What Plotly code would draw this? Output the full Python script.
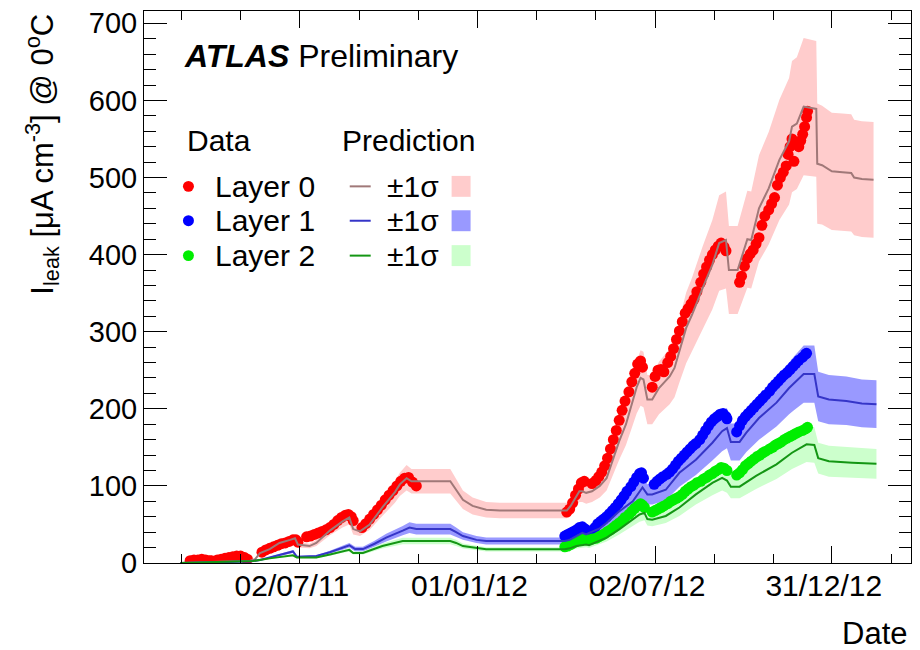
import pandas as pd
import plotly.graph_objects as go

FONT = "Liberation Sans, Arial, Helvetica, sans-serif"
EPOCH = pd.Timestamp("2011-01-01")

# ---------------------------------------------------------------------------
# Measured leakage current, I_leak [uA cm^-3] normalised to 0 C
# x values are days since 1 January 2011
# ---------------------------------------------------------------------------
l0_day = [69, 73, 77, 81, 85, 89, 91,
          97, 101, 105, 109, 113, 117, 121, 125, 128,
          143, 147, 151, 155, 159, 163, 167, 171, 175, 178, 180,
          189, 193, 197, 201, 205, 209, 213, 217, 221, 225, 229, 232, 235, 237,
          246, 250, 254, 258, 262, 266, 270, 274, 278, 282, 286, 290, 294, 298, 302,
          457, 460, 463, 466, 469, 472, 475,
          483, 487, 490, 493, 496, 499, 502, 505, 508, 511, 514, 517, 521, 524, 527, 530, 533, 535,
          545, 548, 551, 554, 557, 561, 564, 567, 570, 573, 576, 579, 582, 585, 588, 591, 595, 598,
          601, 604, 607, 610, 613, 616, 619, 621,
          635, 637, 640, 643, 646, 649, 652, 655, 658, 661, 665, 668, 671, 674, 677, 680, 683, 685,
          687, 689, 691, 693, 696, 698, 700, 702, 704, 705]
l0_ileak = [3, 4, 4, 5, 4, 3, 3,
            4, 5, 6, 7, 8, 9, 9, 7, 5,
            14, 17, 19, 21, 23, 25, 26, 28, 30, 30, 27,
            34, 35, 37, 39, 41, 43, 46, 50, 55, 59, 62, 63, 60, 55,
            46, 51, 57, 63, 69, 75, 82, 88, 94, 100, 106, 110, 111, 105, 100,
            66, 70, 78, 88, 96, 104, 106,
            103, 107, 112, 118, 126, 136, 148, 160, 172, 185, 198, 210, 222, 235, 246, 258, 262, 254,
            228, 242, 250, 251, 248, 260, 268, 278, 290, 301, 313, 324, 330, 336, 342, 352, 364, 375,
            384, 393, 400, 406, 411, 415, 410, 405,
            364, 372, 385, 395, 401, 406, 414, 422, 438, 450, 458, 466, 474, 490, 500, 507, 515, 530,
            540, 550, 521, 545, 540, 548, 556, 566, 578, 586]

l1_day = [455, 458, 461, 464, 467, 470, 473, 476,
          482, 486, 489, 492, 495, 498, 501, 504, 507, 510, 513, 516, 519, 523, 526, 529, 532, 534, 536,
          547, 550, 553, 556, 560, 563, 566, 569, 572, 575, 578, 581, 584, 587, 590, 594, 597, 600,
          603, 606, 609, 612, 615, 618, 621, 622,
          632, 635, 638, 641, 644, 647, 650, 653, 656, 659, 662, 666, 669, 672, 675, 678, 681, 684,
          687, 690, 693, 696, 700, 703, 704]
l1_ileak = [35, 37, 39, 41, 43, 46, 47, 44,
            41, 46, 51, 54, 57, 60, 64, 68, 72, 77, 82, 87, 93, 99, 105, 111, 116, 117, 110,
            102, 106, 109, 112, 115, 118, 122, 127, 132, 136, 140, 144, 148, 152, 155, 160, 166, 172,
            178, 183, 187, 190, 193, 194, 190, 187,
            170, 178, 185, 190, 194, 198, 202, 206, 210, 214, 218, 223, 228, 232, 236, 240, 244, 247,
            251, 255, 259, 263, 267, 271, 272]

l2_day = [455, 458, 461, 464, 467, 470, 473, 476, 478,
          483, 487, 490, 493, 496, 499, 502, 505, 508, 511, 514, 517, 521, 524, 527, 530, 533, 535, 537,
          545, 548, 551, 554, 557, 561, 564, 567, 570, 573, 576, 579, 582, 585, 588, 591, 595, 598,
          601, 604, 607, 610, 613, 616, 619, 622,
          632, 635, 638, 641, 644, 647, 650, 653, 656, 659, 662, 666, 669, 672, 675, 678, 681, 684,
          687, 690, 693, 696, 700, 703, 705]
l2_ileak = [21, 22, 24, 26, 28, 30, 32, 31, 30,
            31, 32, 34, 36, 38, 41, 43, 46, 49, 52, 55, 59, 63, 67, 71, 74, 77, 75, 72,
            66, 68, 70, 72, 74, 77, 80, 82, 84, 86, 89, 93, 96, 99, 101, 104, 106, 109,
            111, 114, 116, 119, 121, 124, 123, 120,
            114, 117, 121, 126, 129, 132, 135, 138, 140, 143, 145, 148, 150, 153, 155, 157, 160, 162,
            164, 166, 168, 170, 172, 174, 176]

# ---------------------------------------------------------------------------
# Prediction with its +-1 sigma band
# ---------------------------------------------------------------------------
p0_day = [59, 79, 110, 131, 136, 141, 151, 161, 172, 177, 180, 192, 199, 213, 226, 233, 237, 244,
          254, 267, 280, 285, 292, 297, 337, 343, 350, 360, 374, 388, 457, 461, 466, 470, 473, 477,
          483, 491, 498, 504, 511, 518, 524, 529, 533, 536, 540, 545, 552, 559, 563, 568, 573, 580,
          586, 593, 597, 607, 614, 621, 624, 633, 643, 647, 655, 665, 676, 686, 689, 694, 701, 714,
          715, 720, 730, 741, 750, 753, 761, 773]
p0_mid = [0, 1, 2, 3, 5, 13, 18, 26, 30, 32, 24, 22, 26, 42, 54, 59, 44, 41,
          50, 72, 92, 102, 110, 106, 106, 95, 82, 74, 69, 68, 68, 74, 85, 93, 93, 91,
          93, 100, 110, 132, 158, 180, 205, 228, 240, 238, 212, 212, 227, 236, 242, 253, 275, 305,
          322, 345, 357, 387, 415, 419, 380, 380, 420, 419, 460, 486, 523, 547, 566, 570, 592, 589,
          518, 516, 508, 507, 506, 500, 498, 497]
p0_hi = [0, 1.2, 2.3, 3.5, 5.8, 15, 21, 30, 35, 37, 28, 25, 30, 48, 62, 68, 51, 47,
         58, 83, 106, 117, 127, 122, 122, 109, 94, 85, 79, 78, 78, 85, 98, 107, 107, 105,
         107, 115, 127, 152, 182, 207, 236, 262, 276, 274, 244, 244, 261, 271, 278, 291, 316, 351,
         370, 397, 411, 445, 477, 482, 437, 437, 483, 482, 529, 559, 601, 629, 651, 656, 681, 677,
         596, 593, 584, 583, 582, 575, 573, 572]
p0_lo = [0, 0.85, 1.7, 2.6, 4.3, 11, 15, 22, 26, 27, 20, 19, 22, 36, 46, 50, 37, 35,
         43, 61, 78, 87, 94, 90, 90, 81, 70, 63, 59, 58, 58, 63, 72, 79, 79, 77,
         79, 85, 94, 112, 134, 153, 174, 194, 204, 202, 180, 180, 193, 201, 206, 215, 234, 259,
         274, 293, 303, 329, 353, 356, 323, 323, 357, 356, 391, 413, 445, 465, 481, 485, 503, 501,
         440, 439, 432, 431, 430, 425, 423, 422]

p1_day = [59, 131, 141, 151, 161, 175, 179, 199, 213, 226, 233, 239, 247, 259, 271, 288, 295, 302,
          337, 343, 350, 364, 374, 455, 460, 467, 473, 477, 480, 491, 498, 511, 525, 535, 540, 545,
          559, 573, 590, 607, 617, 622, 626, 635, 642, 655, 673, 686, 691, 701, 712, 716, 727, 745,
          761, 776]
p1_mid = [0, 2, 4, 7, 10, 15, 8, 9, 14, 20, 23, 18, 18, 25, 33, 42, 46, 44,
          44, 40, 35, 30, 28.5, 28.5, 30, 35, 39, 37, 39, 45, 52, 67, 80, 98, 89, 89,
          95, 117, 134, 156, 171, 175, 157, 157, 169, 188, 208, 227, 233, 245, 245, 216, 212, 210,
          207, 206]
p1_hi = [0, 2.3, 4.6, 8, 11.5, 17, 9, 10, 16, 23, 26, 21, 21, 29, 38, 48, 53, 51,
         51, 46, 40, 35, 33, 33, 35, 40, 45, 43, 45, 52, 60, 77, 92, 113, 102, 102,
         109, 135, 154, 179, 197, 201, 181, 181, 194, 216, 239, 261, 268, 282, 282, 248, 244, 242,
         238, 237]
p1_lo = [0, 1.7, 3.4, 6, 8.5, 13, 7, 7.7, 12, 17, 20, 15, 15, 21, 28, 36, 39, 37,
         37, 34, 30, 26, 24, 24, 26, 30, 33, 31, 33, 38, 44, 57, 68, 83, 76, 76,
         81, 99, 114, 133, 145, 149, 133, 133, 144, 160, 177, 193, 198, 208, 208, 184, 180, 179,
         176, 175]

p2_day = [59, 134, 151, 175, 179, 199, 213, 226, 233, 237, 247, 267, 288, 337, 343, 350, 364, 374,
          455, 460, 467, 477, 480, 498, 511, 525, 532, 537, 540, 545, 559, 573, 590, 607, 617, 622,
          626, 635, 652, 673, 689, 704, 712, 716, 727, 751, 776]
p2_mid = [0, 2.6, 6, 10, 7, 7, 11, 15.5, 17, 13, 13, 22, 28.5, 28.5, 26, 22, 19, 17.7,
          17.7, 19, 22, 24, 23, 33, 43.6, 56.6, 63, 65, 57, 56, 61, 72, 89, 104, 110.5, 107,
          99, 99, 113, 128, 143, 154, 153, 136, 132, 130, 128.6]
p2_hi = [0, 3, 6.9, 11.5, 8, 8, 12.7, 17.8, 19.6, 15, 15, 25.3, 32.8, 32.8, 30, 25.3, 21.9, 20.4,
         20.4, 21.9, 25.3, 27.6, 26.5, 38, 50, 65, 72.5, 74.8, 65.6, 64.4, 70, 83, 102, 120, 127, 123,
         114, 114, 130, 147, 164, 177, 176, 156, 152, 150, 148]
p2_lo = [0, 2.2, 5.1, 8.5, 6, 6, 9.4, 13.2, 14.5, 11, 11, 18.7, 24.2, 24.2, 22.1, 18.7, 16.2, 15,
         15, 16.2, 18.7, 20.4, 19.6, 28, 37, 48, 53.6, 55.3, 48.5, 47.6, 52, 61, 76, 88, 94, 91,
         84, 84, 96, 109, 122, 131, 130, 116, 112, 110.5, 109.3]

# Axis ticks
major_dates = ["2011-07-02", "2012-01-01", "2012-07-02", "2012-12-31"]
major_labels = ["02/07/11", "01/01/12", "02/07/12", "31/12/12"]
minor_dates = ["2011-03-02", "2011-05-02", "2011-09-01", "2011-11-01", "2012-03-02",
               "2012-05-02", "2012-09-01", "2012-11-01", "2013-03-02"]
x_range = ["2011-01-22 12:00", "2013-03-22 14:00"]
y_range = [0, 716]

# Styles
DATA_COLORS = ["#ff0000", "#0000ff", "#00ee00"]
LINE_COLORS = ["#a07878", "#3535c8", "#149614"]
BAND_COLORS = ["#ffcccc", "#9999ff", "#ccffcc"]


def to_date(days):
    return list(EPOCH + pd.to_timedelta(days, unit="D"))


fig = go.Figure()

# uncertainty bands
for day, hi, lo, col in [(p0_day, p0_hi, p0_lo, BAND_COLORS[0]),
                         (p1_day, p1_hi, p1_lo, BAND_COLORS[1]),
                         (p2_day, p2_hi, p2_lo, BAND_COLORS[2])]:
    d = to_date(day)
    fig.add_trace(go.Scatter(x=d + d[::-1], y=list(hi) + list(lo)[::-1],
                             fill="toself", fillcolor=col, mode="lines",
                             line=dict(width=0, color=col), hoverinfo="skip"))

# measurements
for day, val, col in [(l0_day, l0_ileak, DATA_COLORS[0]),
                      (l1_day, l1_ileak, DATA_COLORS[1]),
                      (l2_day, l2_ileak, DATA_COLORS[2])]:
    fig.add_trace(go.Scatter(x=to_date(day), y=val, mode="markers",
                             marker=dict(size=11, color=col, line=dict(width=0))))

# central predictions
for day, mid, col in [(p0_day, p0_mid, LINE_COLORS[0]),
                      (p1_day, p1_mid, LINE_COLORS[1]),
                      (p2_day, p2_mid, LINE_COLORS[2])]:
    fig.add_trace(go.Scatter(x=to_date(day), y=mid, mode="lines",
                             line=dict(color=col, width=2)))

# ---------------------------------------------------------------------------
# Layout
# ---------------------------------------------------------------------------
W, H = 920, 650
ML, MR, MT, MB = 144, 8, 9, 87
PW, PH = W - ML - MR, H - MT - MB


def px(xp):
    return (xp - ML) / PW


def py(yp):
    return (H - MB - yp) / PH


fig.update_layout(
    width=W, height=H,
    margin=dict(l=ML, r=MR, t=MT, b=MB),
    paper_bgcolor="white", plot_bgcolor="white",
    showlegend=False,
    font=dict(family=FONT, size=29, color="black"),
)
fig.update_xaxes(
    type="date", range=x_range,
    tickmode="array", tickvals=major_dates, ticktext=major_labels,
    ticks="inside", ticklen=17, tickwidth=1, tickcolor="black",
    ticklabelshift=-8, ticklabelstandoff=-4,
    showline=True, linecolor="black", linewidth=1, mirror="ticks",
    showgrid=False, zeroline=False,
    tickfont=dict(family=FONT, size=30, color="black"),
    minor=dict(tickmode="array", tickvals=minor_dates, ticks="inside", ticklen=9,
               tickwidth=1, tickcolor="black", showgrid=False),
)
fig.update_yaxes(
    range=y_range, tickmode="linear", tick0=0, dtick=100,
    ticks="inside", ticklen=23, tickwidth=1, tickcolor="black",
    showline=True, linecolor="black", linewidth=1, mirror="ticks",
    showgrid=False, zeroline=False,
    tickfont=dict(family=FONT, size=29, color="black"),
    minor=dict(dtick=20, ticks="inside", ticklen=12, tickwidth=1,
               tickcolor="black", showgrid=False),
)

annotations = []
shapes = []


def text(xp, yp, s, size=30, xanchor="left", yanchor="middle", angle=0):
    annotations.append(dict(x=px(xp), y=py(yp), xref="paper", yref="paper",
                            text=s, showarrow=False, xanchor=xanchor, yanchor=yanchor,
                            textangle=angle,
                            font=dict(family=FONT, size=size, color="black")))


# axis titles
text(42, 10, "I<sub>leak</sub> [μA cm<sup>-3</sup>] @ 0<sup>o</sup>C", size=31,
     xanchor="center", yanchor="top", angle=-90)
text(910, 634, "Date", size=31, xanchor="right")

# experiment label
text(182, 54, "<b><i>ATLAS</i></b> Preliminary", size=32)

# legend
text(185, 139, "Data")
text(340, 139, "Prediction")
rows = [185, 219.5, 254.5]
for i, yc in enumerate(rows):
    r = 5.5
    shapes.append(dict(type="circle", xref="paper", yref="paper",
                       x0=px(188.5 - r), x1=px(188.5 + r), y0=py(yc + r), y1=py(yc - r),
                       fillcolor=DATA_COLORS[i], line=dict(width=0)))
    text(213, yc, f"Layer {i}")
    shapes.append(dict(type="line", xref="paper", yref="paper",
                       x0=px(350), x1=px(371), y0=py(yc), y1=py(yc),
                       line=dict(color=LINE_COLORS[i], width=2)))
    text(385, yc, "±1σ")
    shapes.append(dict(type="rect", xref="paper", yref="paper",
                       x0=px(452), x1=px(471), y0=py(yc + 10.5), y1=py(yc - 10.5),
                       fillcolor=BAND_COLORS[i], line=dict(width=0)))

fig.update_layout(annotations=annotations, shapes=shapes)

fig.write_html("out.html")
